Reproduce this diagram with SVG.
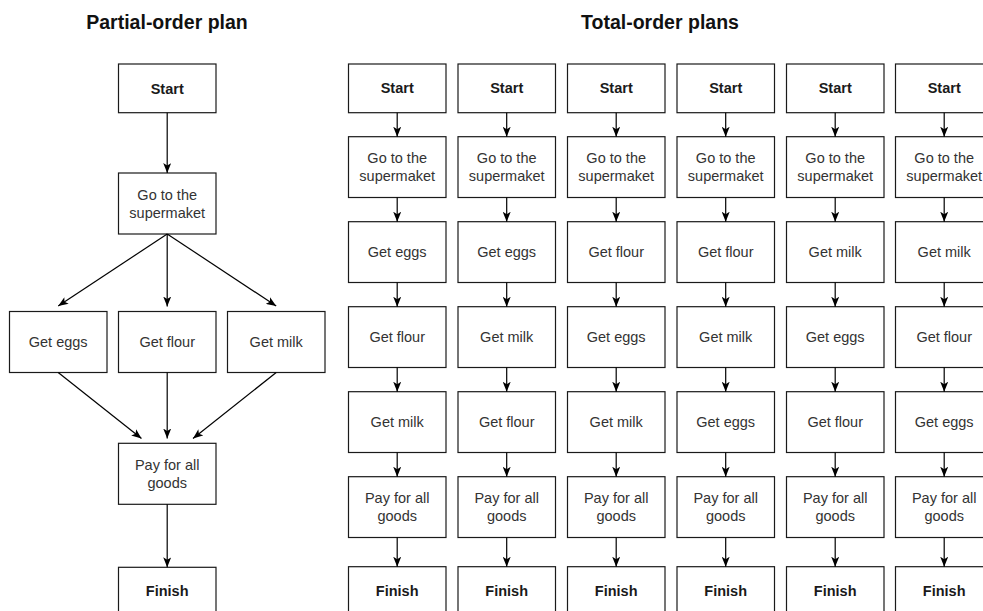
<svg xmlns="http://www.w3.org/2000/svg" width="983" height="611" viewBox="0 0 983 611">
  <style>
    .box { fill: #ffffff; stroke: #1a1a1a; stroke-width: 1.2; }
    .t { font-family: "Liberation Sans", Arial, sans-serif; font-size: 14.5px; fill: #333333; text-anchor: middle; }
    .b { font-family: "Liberation Sans", Arial, sans-serif; font-size: 14.5px; font-weight: bold; fill: #1a1a1a; text-anchor: middle; }
    .title { font-family: "Liberation Sans", Arial, sans-serif; font-size: 19.5px; font-weight: bold; fill: #111111; text-anchor: middle; }
    .edge { fill: none; stroke: #000000; stroke-width: 1.2; marker-end: url(#arrow); }
  </style>
  <defs>
    <marker id="arrow" markerUnits="userSpaceOnUse" viewBox="0 0 10 8" markerWidth="10" markerHeight="8" refX="10" refY="4" orient="auto">
      <path d="M0,0 L10,4 L0,8 L2.5,4 Z" fill="#000000"/>
    </marker>
  </defs>
  <rect width="983" height="611" fill="#ffffff"/>

  <text class="title" x="167" y="29">Partial-order plan</text>
  <text class="title" x="660" y="29">Total-order plans</text>

  <!-- Partial-order plan -->
  <g id="p-start"><rect class="box" x="118.5" y="64" width="97.5" height="48.7"/><text class="b" x="167.2" y="93.5">Start</text></g>
  <g id="p-go"><rect class="box" x="118.5" y="173" width="97.5" height="61"/><text class="t" x="167.2" y="199.5">Go to the</text><text class="t" x="167.2" y="217.5">supermaket</text></g>
  <g id="p-eggs"><rect class="box" x="9.5" y="311.5" width="97.5" height="61"/><text class="t" x="58.2" y="347">Get eggs</text></g>
  <g id="p-flour"><rect class="box" x="118.5" y="311.5" width="97.5" height="61"/><text class="t" x="167.2" y="347">Get flour</text></g>
  <g id="p-milk"><rect class="box" x="227.5" y="311.5" width="97.5" height="61"/><text class="t" x="276.2" y="347">Get milk</text></g>
  <g id="p-pay"><rect class="box" x="118.5" y="443.3" width="97.5" height="61"/><text class="t" x="167.2" y="469.8">Pay for all</text><text class="t" x="167.2" y="487.8">goods</text></g>
  <g id="p-finish"><rect class="box" x="118.5" y="567.3" width="97.5" height="48.7"/><text class="b" x="167.2" y="596">Finish</text></g>

  <!-- Total-order plans: one column per ordering -->
  <g id="c1-start"><rect class="box" x="348.5" y="64" width="97.5" height="48.7"/><text class="b" x="397.2" y="93.4">Start</text></g>
  <g id="c1-go"><rect class="box" x="348.5" y="136.7" width="97.5" height="60.8"/><text class="t" x="397.2" y="163.1">Go to the</text><text class="t" x="397.2" y="181.1">supermaket</text></g>
  <g id="c1-s1"><rect class="box" x="348.5" y="221.7" width="97.5" height="60.8"/><text class="t" x="397.2" y="257.1">Get eggs</text></g>
  <g id="c1-s2"><rect class="box" x="348.5" y="306.7" width="97.5" height="60.8"/><text class="t" x="397.2" y="342.1">Get flour</text></g>
  <g id="c1-s3"><rect class="box" x="348.5" y="391.7" width="97.5" height="60.8"/><text class="t" x="397.2" y="427.1">Get milk</text></g>
  <g id="c1-pay"><rect class="box" x="348.5" y="476.7" width="97.5" height="60.8"/><text class="t" x="397.2" y="503.1">Pay for all</text><text class="t" x="397.2" y="521.1">goods</text></g>
  <g id="c1-finish"><rect class="box" x="348.5" y="566.7" width="97.5" height="48.7"/><text class="b" x="397.2" y="596">Finish</text></g>

  <g id="c2-start"><rect class="box" x="458" y="64" width="97.5" height="48.7"/><text class="b" x="506.7" y="93.4">Start</text></g>
  <g id="c2-go"><rect class="box" x="458" y="136.7" width="97.5" height="60.8"/><text class="t" x="506.7" y="163.1">Go to the</text><text class="t" x="506.7" y="181.1">supermaket</text></g>
  <g id="c2-s1"><rect class="box" x="458" y="221.7" width="97.5" height="60.8"/><text class="t" x="506.7" y="257.1">Get eggs</text></g>
  <g id="c2-s2"><rect class="box" x="458" y="306.7" width="97.5" height="60.8"/><text class="t" x="506.7" y="342.1">Get milk</text></g>
  <g id="c2-s3"><rect class="box" x="458" y="391.7" width="97.5" height="60.8"/><text class="t" x="506.7" y="427.1">Get flour</text></g>
  <g id="c2-pay"><rect class="box" x="458" y="476.7" width="97.5" height="60.8"/><text class="t" x="506.7" y="503.1">Pay for all</text><text class="t" x="506.7" y="521.1">goods</text></g>
  <g id="c2-finish"><rect class="box" x="458" y="566.7" width="97.5" height="48.7"/><text class="b" x="506.7" y="596">Finish</text></g>

  <g id="c3-start"><rect class="box" x="567.5" y="64" width="97.5" height="48.7"/><text class="b" x="616.2" y="93.4">Start</text></g>
  <g id="c3-go"><rect class="box" x="567.5" y="136.7" width="97.5" height="60.8"/><text class="t" x="616.2" y="163.1">Go to the</text><text class="t" x="616.2" y="181.1">supermaket</text></g>
  <g id="c3-s1"><rect class="box" x="567.5" y="221.7" width="97.5" height="60.8"/><text class="t" x="616.2" y="257.1">Get flour</text></g>
  <g id="c3-s2"><rect class="box" x="567.5" y="306.7" width="97.5" height="60.8"/><text class="t" x="616.2" y="342.1">Get eggs</text></g>
  <g id="c3-s3"><rect class="box" x="567.5" y="391.7" width="97.5" height="60.8"/><text class="t" x="616.2" y="427.1">Get milk</text></g>
  <g id="c3-pay"><rect class="box" x="567.5" y="476.7" width="97.5" height="60.8"/><text class="t" x="616.2" y="503.1">Pay for all</text><text class="t" x="616.2" y="521.1">goods</text></g>
  <g id="c3-finish"><rect class="box" x="567.5" y="566.7" width="97.5" height="48.7"/><text class="b" x="616.2" y="596">Finish</text></g>

  <g id="c4-start"><rect class="box" x="677" y="64" width="97.5" height="48.7"/><text class="b" x="725.7" y="93.4">Start</text></g>
  <g id="c4-go"><rect class="box" x="677" y="136.7" width="97.5" height="60.8"/><text class="t" x="725.7" y="163.1">Go to the</text><text class="t" x="725.7" y="181.1">supermaket</text></g>
  <g id="c4-s1"><rect class="box" x="677" y="221.7" width="97.5" height="60.8"/><text class="t" x="725.7" y="257.1">Get flour</text></g>
  <g id="c4-s2"><rect class="box" x="677" y="306.7" width="97.5" height="60.8"/><text class="t" x="725.7" y="342.1">Get milk</text></g>
  <g id="c4-s3"><rect class="box" x="677" y="391.7" width="97.5" height="60.8"/><text class="t" x="725.7" y="427.1">Get eggs</text></g>
  <g id="c4-pay"><rect class="box" x="677" y="476.7" width="97.5" height="60.8"/><text class="t" x="725.7" y="503.1">Pay for all</text><text class="t" x="725.7" y="521.1">goods</text></g>
  <g id="c4-finish"><rect class="box" x="677" y="566.7" width="97.5" height="48.7"/><text class="b" x="725.7" y="596">Finish</text></g>

  <g id="c5-start"><rect class="box" x="786.5" y="64" width="97.5" height="48.7"/><text class="b" x="835.2" y="93.4">Start</text></g>
  <g id="c5-go"><rect class="box" x="786.5" y="136.7" width="97.5" height="60.8"/><text class="t" x="835.2" y="163.1">Go to the</text><text class="t" x="835.2" y="181.1">supermaket</text></g>
  <g id="c5-s1"><rect class="box" x="786.5" y="221.7" width="97.5" height="60.8"/><text class="t" x="835.2" y="257.1">Get milk</text></g>
  <g id="c5-s2"><rect class="box" x="786.5" y="306.7" width="97.5" height="60.8"/><text class="t" x="835.2" y="342.1">Get eggs</text></g>
  <g id="c5-s3"><rect class="box" x="786.5" y="391.7" width="97.5" height="60.8"/><text class="t" x="835.2" y="427.1">Get flour</text></g>
  <g id="c5-pay"><rect class="box" x="786.5" y="476.7" width="97.5" height="60.8"/><text class="t" x="835.2" y="503.1">Pay for all</text><text class="t" x="835.2" y="521.1">goods</text></g>
  <g id="c5-finish"><rect class="box" x="786.5" y="566.7" width="97.5" height="48.7"/><text class="b" x="835.2" y="596">Finish</text></g>

  <g id="c6-start"><rect class="box" x="895.5" y="64" width="97.5" height="48.7"/><text class="b" x="944.2" y="93.4">Start</text></g>
  <g id="c6-go"><rect class="box" x="895.5" y="136.7" width="97.5" height="60.8"/><text class="t" x="944.2" y="163.1">Go to the</text><text class="t" x="944.2" y="181.1">supermaket</text></g>
  <g id="c6-s1"><rect class="box" x="895.5" y="221.7" width="97.5" height="60.8"/><text class="t" x="944.2" y="257.1">Get milk</text></g>
  <g id="c6-s2"><rect class="box" x="895.5" y="306.7" width="97.5" height="60.8"/><text class="t" x="944.2" y="342.1">Get flour</text></g>
  <g id="c6-s3"><rect class="box" x="895.5" y="391.7" width="97.5" height="60.8"/><text class="t" x="944.2" y="427.1">Get eggs</text></g>
  <g id="c6-pay"><rect class="box" x="895.5" y="476.7" width="97.5" height="60.8"/><text class="t" x="944.2" y="503.1">Pay for all</text><text class="t" x="944.2" y="521.1">goods</text></g>
  <g id="c6-finish"><rect class="box" x="895.5" y="566.7" width="97.5" height="48.7"/><text class="b" x="944.2" y="596">Finish</text></g>

  <g id="connectors">
    <!-- partial order -->
    <line class="edge" x1="167.2" y1="112.7" x2="167.2" y2="173"/>
    <line class="edge" x1="167.2" y1="234" x2="58.2" y2="306"/>
    <line class="edge" x1="167.2" y1="234" x2="167.2" y2="306.5"/>
    <line class="edge" x1="167.2" y1="234" x2="276.2" y2="306"/>
    <line class="edge" x1="58.2" y1="372.5" x2="141.5" y2="438.5"/>
    <line class="edge" x1="167.2" y1="372.5" x2="167.2" y2="438.5"/>
    <line class="edge" x1="276.2" y1="372.5" x2="193" y2="438.5"/>
    <line class="edge" x1="167.2" y1="504.3" x2="167.2" y2="567.3"/>

    <!-- column 1 -->
    <line class="edge" x1="397.2" y1="112.7" x2="397.2" y2="136.7"/>
    <line class="edge" x1="397.2" y1="197.5" x2="397.2" y2="221.7"/>
    <line class="edge" x1="397.2" y1="282.5" x2="397.2" y2="306.7"/>
    <line class="edge" x1="397.2" y1="367.5" x2="397.2" y2="391.7"/>
    <line class="edge" x1="397.2" y1="452.5" x2="397.2" y2="476.7"/>
    <line class="edge" x1="397.2" y1="537.5" x2="397.2" y2="566.7"/>
    <!-- column 2 -->
    <line class="edge" x1="506.7" y1="112.7" x2="506.7" y2="136.7"/>
    <line class="edge" x1="506.7" y1="197.5" x2="506.7" y2="221.7"/>
    <line class="edge" x1="506.7" y1="282.5" x2="506.7" y2="306.7"/>
    <line class="edge" x1="506.7" y1="367.5" x2="506.7" y2="391.7"/>
    <line class="edge" x1="506.7" y1="452.5" x2="506.7" y2="476.7"/>
    <line class="edge" x1="506.7" y1="537.5" x2="506.7" y2="566.7"/>
    <!-- column 3 -->
    <line class="edge" x1="616.2" y1="112.7" x2="616.2" y2="136.7"/>
    <line class="edge" x1="616.2" y1="197.5" x2="616.2" y2="221.7"/>
    <line class="edge" x1="616.2" y1="282.5" x2="616.2" y2="306.7"/>
    <line class="edge" x1="616.2" y1="367.5" x2="616.2" y2="391.7"/>
    <line class="edge" x1="616.2" y1="452.5" x2="616.2" y2="476.7"/>
    <line class="edge" x1="616.2" y1="537.5" x2="616.2" y2="566.7"/>
    <!-- column 4 -->
    <line class="edge" x1="725.7" y1="112.7" x2="725.7" y2="136.7"/>
    <line class="edge" x1="725.7" y1="197.5" x2="725.7" y2="221.7"/>
    <line class="edge" x1="725.7" y1="282.5" x2="725.7" y2="306.7"/>
    <line class="edge" x1="725.7" y1="367.5" x2="725.7" y2="391.7"/>
    <line class="edge" x1="725.7" y1="452.5" x2="725.7" y2="476.7"/>
    <line class="edge" x1="725.7" y1="537.5" x2="725.7" y2="566.7"/>
    <!-- column 5 -->
    <line class="edge" x1="835.2" y1="112.7" x2="835.2" y2="136.7"/>
    <line class="edge" x1="835.2" y1="197.5" x2="835.2" y2="221.7"/>
    <line class="edge" x1="835.2" y1="282.5" x2="835.2" y2="306.7"/>
    <line class="edge" x1="835.2" y1="367.5" x2="835.2" y2="391.7"/>
    <line class="edge" x1="835.2" y1="452.5" x2="835.2" y2="476.7"/>
    <line class="edge" x1="835.2" y1="537.5" x2="835.2" y2="566.7"/>
    <!-- column 6 -->
    <line class="edge" x1="944.2" y1="112.7" x2="944.2" y2="136.7"/>
    <line class="edge" x1="944.2" y1="197.5" x2="944.2" y2="221.7"/>
    <line class="edge" x1="944.2" y1="282.5" x2="944.2" y2="306.7"/>
    <line class="edge" x1="944.2" y1="367.5" x2="944.2" y2="391.7"/>
    <line class="edge" x1="944.2" y1="452.5" x2="944.2" y2="476.7"/>
    <line class="edge" x1="944.2" y1="537.5" x2="944.2" y2="566.7"/>
  </g>
</svg>
